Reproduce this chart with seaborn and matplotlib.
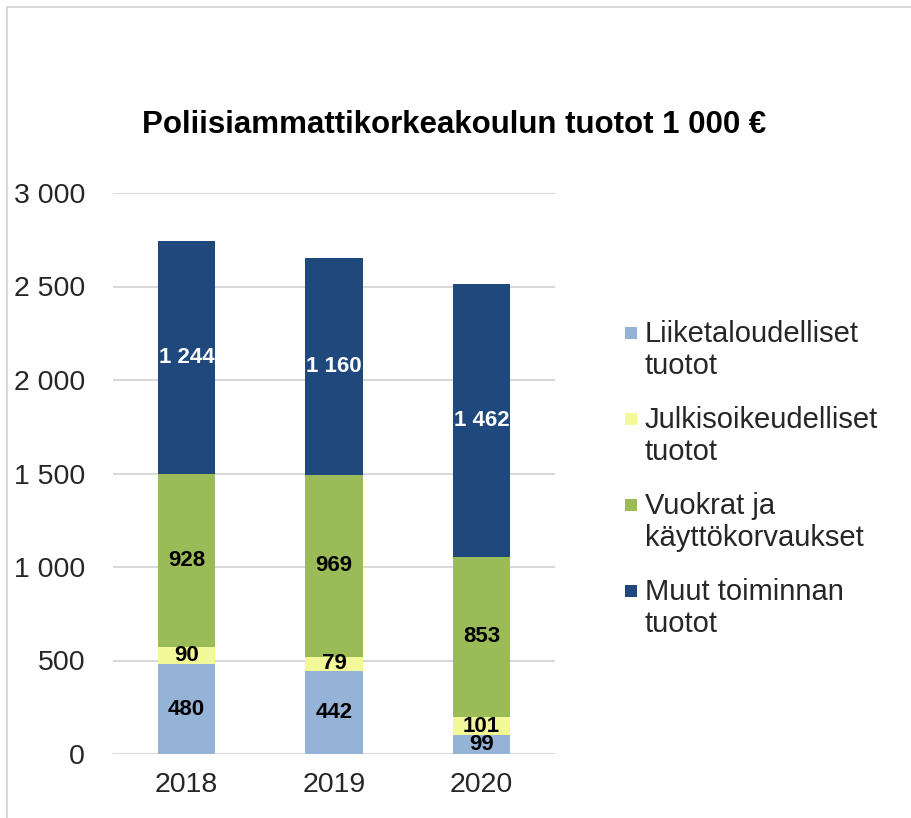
import numpy as np
import pandas as pd
import matplotlib.pyplot as plt
import seaborn as sns
from matplotlib.patches import Rectangle

years = ['2018', '2019', '2020']
liiketaloudelliset = [480, 442, 99]
julkisoikeudelliset = [90, 79, 101]
vuokrat = [928, 969, 853]
muut = [1244, 1160, 1462]

series_labels = ['Liiketaloudelliset\ntuotot',
                 'Julkisoikeudelliset\ntuotot',
                 'Vuokrat ja\nkäyttökorvaukset',
                 'Muut toiminnan\ntuotot']
colors = ['#95b3d7', '#f3f898', '#9bbb59', '#1f497d']
title = 'Poliisiammattikorkeakoulun tuotot 1 000 €'
yticks = [0, 500, 1000, 1500, 2000, 2500, 3000]


def fmt(v):
    return f'{v:,}'.replace(',', ' ')


sns.set_theme(style='white')
plt.rcParams['font.family'] = ['Liberation Sans', 'DejaVu Sans']

W, H = 912, 818
fig = plt.figure(figsize=(W / 100, H / 100), dpi=100)
ax = fig.add_axes([113 / W, 1 - 754 / H, 442 / W, 561 / H])

vals = np.array([liiketaloudelliset, julkisoikeudelliset, vuokrat, muut])
tops = vals.cumsum(axis=0)

# stacked bars: draw cumulative totals from the top down
for k in reversed(range(len(vals))):
    df = pd.DataFrame({'year': years, 'top': tops[k]})
    sns.barplot(data=df, x='year', y='top', color=colors[k], width=0.39,
                saturation=1, edgecolor='none', ax=ax)

for k in range(len(vals)):
    for j in range(len(years)):
        mid = tops[k][j] - vals[k][j] / 2
        ax.text(j, mid, fmt(vals[k][j]), ha='center', va='center',
                fontsize=16, fontweight='bold',
                color='white' if k == 3 else 'black')

ax.set_xlim(-0.5, 2.5)
ax.set_ylim(0, 3000)
ax.set_yticks(yticks)
ax.set_yticklabels([fmt(v) for v in yticks])
ax.set_xlabel('')
ax.set_ylabel('')
ax.yaxis.grid(True, color='#d9d9d9', lw=1.5)
ax.set_axisbelow(True)
for s in ax.spines.values():
    s.set_visible(False)
ax.tick_params(axis='y', length=0, pad=20, labelsize=20.5, labelcolor='#262626')
ax.tick_params(axis='x', length=0, pad=13, labelsize=20.5, labelcolor='#262626')

fig.text(454 / W, 1 - 125 / H, title, ha='center', va='center',
         fontsize=22.5, fontweight='bold', color='black')

# legend
for i, (lab, c) in enumerate(zip(series_labels, colors)):
    yc = 333 + 86 * i
    fig.add_artist(Rectangle((625 / W, 1 - (yc + 6) / H), 12 / W, 12 / H,
                             transform=fig.transFigure, color=c, lw=0))
    fig.text(645 / W, 1 - (yc + 17) / H, lab, ha='left', va='center',
             fontsize=21, color='#262626', linespacing=1.17)

# outer chart border
fig.add_artist(Rectangle((7 / W, -0.5), 2, 0.5 + 1 - 7 / H,
                         transform=fig.transFigure, fill=False,
                         ec='#d9d9d9', lw=1.5))

fig.savefig('out.png', dpi=100)
